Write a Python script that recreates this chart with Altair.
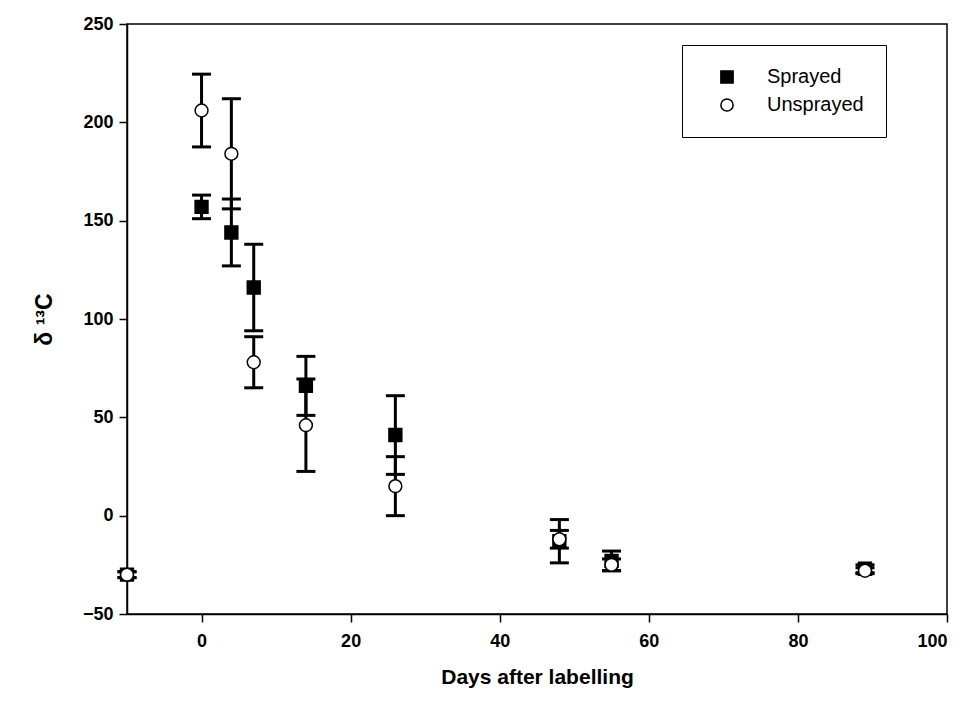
import altair as alt
import pandas as pd

days = [-10, 0, 4, 7, 14, 26, 48, 55, 89]
sprayed_mean = [-30, 157, 144, 116, 66, 41, -13, -23, -27]
sprayed_err = [1.5, 6, 17, 22, 15, 20, 11, 5, 2]
unsprayed_mean = [-30, 206, 184, 78, 46, 15, -12, -25, -28]
unsprayed_err = [1.5, 18.5, 28, 13, 23.5, 15, 4.5, 3, 1.5]

rows = []
for d, m, e in zip(days, sprayed_mean, sprayed_err):
    rows.append({"day": d, "mean": m, "lo": m - e, "hi": m + e, "series": "Sprayed", "ord": 0})
for d, m, e in zip(days, unsprayed_mean, unsprayed_err):
    rows.append({"day": d, "mean": m, "lo": m - e, "hi": m + e, "series": "Unsprayed", "ord": 1})
df = pd.DataFrame(rows)

FONT = "Liberation Sans"
SERIES = ["Sprayed", "Unsprayed"]

x = alt.X("day:Q",
          scale=alt.Scale(domain=[-10, 100], nice=False, zero=False),
          axis=alt.Axis(title="Days after labelling", values=[0, 20, 40, 60, 80, 100],
                        labelPadding=10, titlePadding=16))
y = alt.Y("mean:Q",
          scale=alt.Scale(domain=[-50, 250], nice=False, zero=False),
          axis=alt.Axis(title="δ ¹³C", values=[-50, 0, 50, 100, 150, 200, 250],
                        labelPadding=6, titlePadding=26, titleFontSize=23))

base = alt.Chart(df)

rules = base.mark_rule(color="black", strokeWidth=3).encode(
    x=x, y=alt.Y("lo:Q"), y2="hi:Q")
cap_lo = base.mark_tick(color="black", thickness=3, size=19, orient="horizontal", opacity=1).encode(
    x=x, y=alt.Y("lo:Q"))
cap_hi = base.mark_tick(color="black", thickness=3, size=19, orient="horizontal", opacity=1).encode(
    x=x, y=alt.Y("hi:Q"))

leg = alt.Legend(title=None)
points = base.mark_point(filled=False, strokeWidth=1.5, opacity=1, size=165).encode(
    x=x, y=y,
    shape=alt.Shape("series:N", scale=alt.Scale(domain=SERIES, range=["square", "circle"]), legend=leg),
    fill=alt.Fill("series:N", scale=alt.Scale(domain=SERIES, range=["black", "white"]), legend=leg),
    stroke=alt.Stroke("series:N", scale=alt.Scale(domain=SERIES, range=["black", "black"]), legend=leg),
    order=alt.Order("ord:Q"),
)

chart = alt.layer(rules, cap_lo, cap_hi, points).properties(
    width=820, height=590,
    autosize=alt.AutoSizeParams(type="none"),
    padding={"left": 127, "top": 24, "right": 22, "bottom": 101},
).configure_view(
    stroke="black", strokeWidth=1.5
).configure_axis(
    domainColor="black", domainWidth=1.5, tickColor="black", tickWidth=1.5, tickSize=8,
    grid=False, labelFont=FONT, labelFontSize=18, labelFontWeight="bold", labelColor="black",
    titleFont=FONT, titleFontSize=21, titleFontWeight="bold", titleColor="black",
).configure_legend(
    orient="none", legendX=555, legendY=21, strokeColor="black", padding=22,
    labelFont=FONT, labelFontSize=20, labelColor="black", symbolSize=150,
    symbolStrokeWidth=1.5, rowPadding=8, labelOffset=30, symbolOffset=13, fillColor="white",
)

chart.save("out.html", embed_options={"renderer": "svg", "actions": False})
